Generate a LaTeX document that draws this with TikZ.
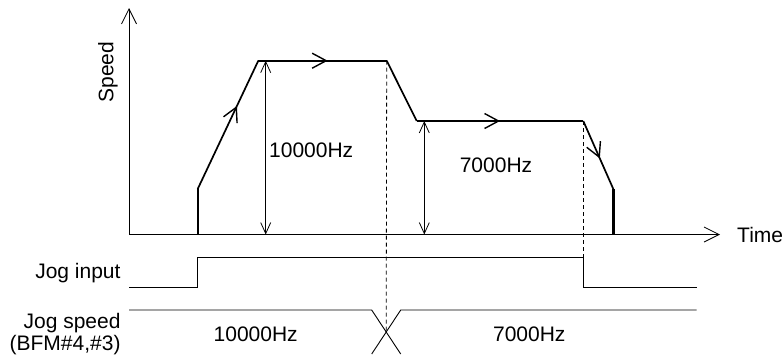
\documentclass[tikz,border=0pt]{standalone}
\usepackage{fontspec}
\setmainfont{Liberation Sans}
\usetikzlibrary{arrows.meta,decorations.markings}
\tikzset{
  axis/.style={line width=0.8pt,-{Straight Barb[length=15pt,width=15pt,line width=0.8pt]}},
  prof/.style={line width=1.7pt},
  thin/.style={line width=0.9pt},
  dim/.style={line width=0.8pt,{Straight Barb[length=11pt,width=10pt,line width=0.8pt]}-{Straight Barb[length=11pt,width=10pt,line width=0.8pt]}},
  guide/.style={line width=0.8pt,dash pattern=on 4pt off 3pt},
  midarrow/.style={postaction={decorate},decoration={markings,
    mark=at position #1 with {\arrow{Straight Barb[length=14pt,width=15pt,line width=1.4pt]}}}},
  lbl/.style={inner sep=0pt,font=\fontsize{21pt}{22pt}\selectfont},
}
\begin{document}
\begin{tikzpicture}[x=1pt,y=-1pt]
\useasboundingbox (0,0) rectangle (783,354);
% coordinates
\coordinate (O) at (129,234.5);
\coordinate (Ytop) at (129,8);
\coordinate (Xend) at (720,234.5);
\coordinate (s0) at (197.7,234.5);
\coordinate (s1) at (197.7,189);
\coordinate (s2) at (258.3,60.7);
\coordinate (s3) at (386.7,60.7);
\coordinate (s4) at (416.7,121);
\coordinate (s5) at (583.3,121);
\coordinate (s6) at (613.3,189);
\coordinate (s7) at (613.3,234.5);
\coordinate (d1t) at (265.7,60.7);
\coordinate (d1b) at (265.7,234.5);
\coordinate (d2t) at (424.3,121);
\coordinate (d2b) at (424.3,234.5);
% axes
\draw[axis] (O) -- (Ytop);
\draw[axis] (O) -- (Xend);
% speed profile
\draw[prof] (s0) -- (s1);
\draw[prof,midarrow=0.647] (s1) -- (s2);
\draw[prof,midarrow=0.54] (s2) -- (s3);
\draw[prof] (s3) -- (s4);
\draw[prof,midarrow=0.5] (s4) -- (s5);
\draw[prof,midarrow=0.55] (s5) -- (s6);
\draw[line width=3.5pt] (s6) -- (s7);
% dimension arrows
\draw[dim] (d1t) -- (d1b);
\draw[dim] (d2t) -- (d2b);
% labels
\node[lbl,rotate=90] (speed) at (108,72) {Speed};
\node[lbl,anchor=west] (f1) at (269,150) {10000Hz};
\node[lbl] (f2) at (496,165.7) {7000Hz};
\node[lbl,anchor=west] (time) at (737,234.5) {Time};
% jog input
\coordinate (j0) at (129,287.3);
\coordinate (j1) at (197.7,287.3);
\coordinate (j2) at (197.7,257.3);
\coordinate (j3) at (583.3,257.3);
\coordinate (j4) at (583.3,287.3);
\coordinate (j5) at (696.7,287.3);
\draw[thin] (j0) -- (j1) -- (j2) -- (j3) -- (j4) -- (j5);
\node[lbl,anchor=base east] (jin) at (120.7,278.5) {Jog input};
% jog speed
\coordinate (k0) at (129,310);
\coordinate (k1) at (371.7,310);
\coordinate (kx) at (386.2,332);
\coordinate (k2) at (400.7,354);
\coordinate (k3) at (371.7,354);
\coordinate (k4) at (400.7,310);
\coordinate (k5) at (696.7,310);
\draw[thin] (k0) -- (k1) -- (kx) -- (k2);
\draw[thin] (k3) -- (kx) -- (k4) -- (k5);
\node[lbl,anchor=base east] (js1) at (120.7,328) {Jog speed};
\node[lbl,anchor=base east] (js2) at (120.7,350) {(BFM\#4,\#3)};
\node[lbl,anchor=base] (v1) at (255.7,341.7) {10000Hz};
\node[lbl,anchor=base] (v2) at (529.3,341.7) {7000Hz};
% dashed guides
\draw[guide] (s3) -- (kx);
\draw[guide] (s5) -- (j4);
\end{tikzpicture}
\end{document}
